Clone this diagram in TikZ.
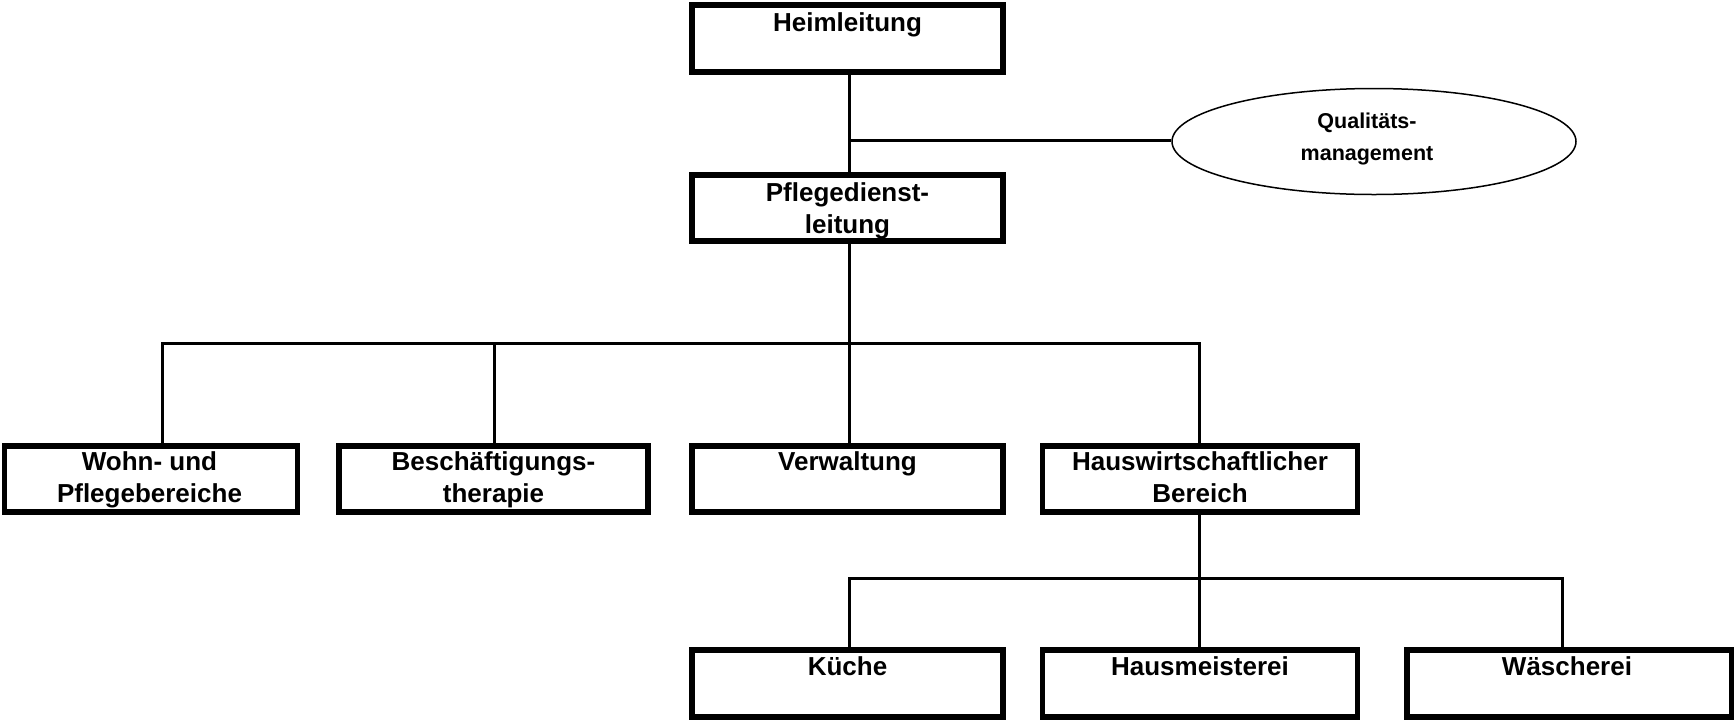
\documentclass[tikz,border=0pt]{standalone}
\usepackage{fontspec}
\setmainfont{Liberation Sans}
\usetikzlibrary{shapes.geometric}
\begin{document}
\begin{tikzpicture}[x=0.5pt,y=-0.5pt,
  orgbox/.style={draw=black, line width=2.75pt, rectangle, inner sep=0pt, minimum height=33pt},
  boxtxt/.style={anchor=north, inner sep=0pt, align=center, font=\fontsize{13pt}{16pt}\selectfont\bfseries},
  elltxt/.style={anchor=north, inner sep=0pt, align=center, font=\fontsize{10.75pt}{16pt}\selectfont\bfseries},
  conn/.style={draw=black, line width=1.5pt}
]
\useasboundingbox (0,0) rectangle (1736,719);
% boxes
\node[orgbox, minimum width=155.5pt, minimum height=33.5pt] (hl) at (847.5,38.5) {};
\node[orgbox, minimum width=155.5pt, minimum height=33pt] (pd) at (847.5,207.75) {};
\node[draw=black, line width=0.75pt, ellipse, inner sep=0pt, minimum width=202pt, minimum height=53pt] (qm) at (1374,141.5) {};
\node[orgbox, minimum width=146.5pt] (wp) at (151,479) {};
\node[orgbox, minimum width=154.5pt] (bt) at (493.5,479) {};
\node[orgbox, minimum width=155.5pt] (vw) at (847.5,479) {};
\node[orgbox, minimum width=157.5pt] (hw) at (1200,479) {};
\node[orgbox, minimum width=155.5pt, minimum height=33.5pt] (ku) at (847.5,683.5) {};
\node[orgbox, minimum width=157.5pt, minimum height=33.5pt] (hm) at (1200,683.5) {};
\node[orgbox, minimum width=162.25pt, minimum height=33.5pt] (wa) at (1569.25,683.5) {};
% texts
\node[boxtxt] (hl-t) at (847.5,12) {Heimleitung};
\node[boxtxt] (pd-t) at (847.5,182) {Pflegedienst-\\leitung};
\node[elltxt] (qm-t) at (1367,113) {Qualitäts-\\management};
\node[boxtxt] (wp-t) at (149.5,451) {Wohn- und\\Pflegebereiche};
\node[boxtxt] (bt-t) at (493.5,451) {Beschäftigungs-\\therapie};
\node[boxtxt] (vw-t) at (847.5,451) {Verwaltung};
\node[boxtxt] (hw-t) at (1200,451) {Hauswirtschaftlicher\\Bereich};
\node[boxtxt] (ku-t) at (847.5,656) {Küche};
\node[boxtxt] (hm-t) at (1200,656) {Hausmeisterei};
\node[boxtxt] (wa-t) at (1567,656) {Wäscherei};
% junction coordinates
\coordinate (c0) at (849,140);
\coordinate (j1) at (849,343);
\coordinate (j1a) at (162,343);
\coordinate (j1b) at (494.5,343);
\coordinate (j1d) at (1199,343);
\coordinate (j2) at (1199,578);
\coordinate (j2a) at (849,578);
\coordinate (j2c) at (1562.5,578);
% connectors
\draw[conn] (c0 |- hl.south) -- (c0 |- pd.north);
\draw[conn] (c0) -- (c0 -| qm.west);
\draw[conn] (c0 |- pd.south) -- (j1);
\draw[conn] (j1a |- wp.north) -- (j1a) -- (j1d) -- (j1d |- hw.north);
\draw[conn] (j1b) -- (j1b |- bt.north);
\draw[conn] (j1) -- (j1 |- vw.north);
\draw[conn] (j2 |- hw.south) -- (j2);
\draw[conn] (j2a |- ku.north) -- (j2a) -- (j2c) -- (j2c |- wa.north);
\draw[conn] (j2) -- (j2 |- hm.north);
\end{tikzpicture}
\end{document}
